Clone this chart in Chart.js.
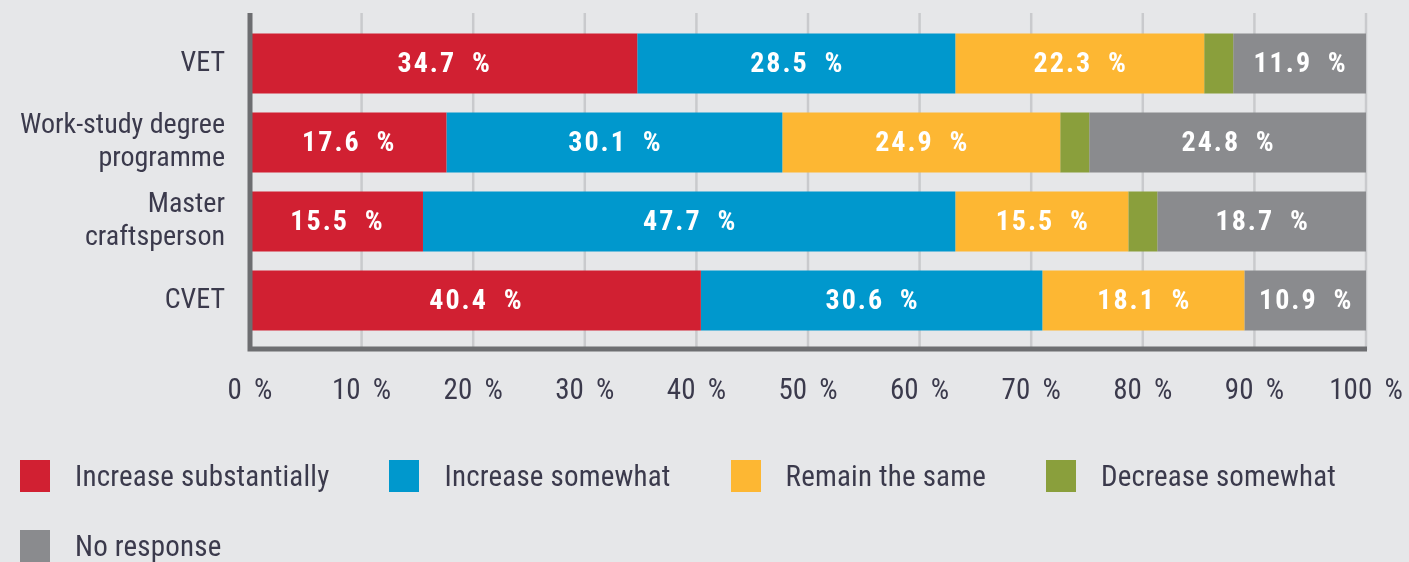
<!DOCTYPE html>
<html>
<head>
<meta charset="utf-8">
<script src="https://cdn.jsdelivr.net/npm/chart.js@4/dist/chart.umd.min.js"></script>
<style>
  html, body { margin: 0; padding: 0; background: #e6e7e9; }
  #wrap { position: relative; width: 1409px; height: 562px; overflow: hidden; }
  #legend {
    position: absolute; left: 20px; top: 460px; width: 1389px;
    display: flex; flex-wrap: wrap; column-gap: 60px; row-gap: 38px;
    font-family: 'Roboto Condensed', 'DejaVu Sans Condensed', sans-serif;
    font-size: 29px; color: #3b3a4c; letter-spacing: 0.2px;
  }
  .item { display: flex; align-items: center; height: 32px; white-space: nowrap; }
  .box { width: 30px; height: 32px; margin-right: 25px; }
</style>
</head>
<body>
<div id="wrap">
  <canvas id="chart" width="1409" height="562"></canvas>
  <div id="legend"></div>
</div>
<script>
//---------------------- Data -----------------------//
const categories = ['VET', ['Work-study degree', 'programme'], ['Master', 'craftsperson'], 'CVET'];
const seriesNames = ['Increase substantially', 'Increase somewhat', 'Remain the same', 'Decrease somewhat', 'No response'];
const increaseSubstantially = [34.7, 17.6, 15.5, 40.4];
const increaseSomewhat = [28.5, 30.1, 47.7, 30.6];
const remainSame = [22.3, 24.9, 15.5, 18.1];
const decreaseSomewhat = [2.6, 2.6, 2.6, 0];
const noResponse = [11.9, 24.8, 18.7, 10.9];
const xTicks = [0, 10, 20, 30, 40, 50, 60, 70, 80, 90, 100];

const colors = ['#d12032', '#0098cd', '#fdb733', '#8a9f3c', '#8a8b8e'];
const fontFamily = "'Roboto Condensed', 'DejaVu Sans Condensed', sans-serif";
const textColor = '#3b3a4c';

//---------------------- Plugins -----------------------//
const gridPlugin = {
    id: 'gridLines',
    beforeDatasetsDraw(chart) {
        const {ctx, chartArea, scales: {x}} = chart;
        ctx.save();
        ctx.strokeStyle = '#c9cacd';
        ctx.lineWidth = 2.5;
        xTicks.forEach((t) => {
            const px = x.getPixelForValue(t);
            ctx.beginPath();
            ctx.moveTo(px, chartArea.top - 11);
            ctx.lineTo(px, chartArea.bottom + 10);
            ctx.stroke();
        });
        ctx.restore();
    },
    afterDatasetsDraw(chart) {
        const {ctx, chartArea, scales: {x}} = chart;
        const left = x.getPixelForValue(0);
        const right = x.getPixelForValue(100);
        ctx.save();
        ctx.strokeStyle = '#6d6e71';
        ctx.lineWidth = 5;
        ctx.beginPath();
        ctx.moveTo(left, chartArea.top - 11);
        ctx.lineTo(left, chartArea.bottom + 11.5);
        ctx.moveTo(left - 2.5, chartArea.bottom + 9);
        ctx.lineTo(right + 1, chartArea.bottom + 9);
        ctx.stroke();
        ctx.restore();
    }
};

const valueLabels = {
    id: 'valueLabels',
    afterDatasetsDraw(chart) {
        const {ctx} = chart;
        ctx.save();
        ctx.font = `bold 28px ${fontFamily}`;
        ctx.fillStyle = '#ffffff';
        ctx.textAlign = 'center';
        ctx.textBaseline = 'middle';
        ctx.letterSpacing = '2px';
        chart.data.datasets.forEach((ds, i) => {
            const meta = chart.getDatasetMeta(i);
            meta.data.forEach((bar, j) => {
                const value = ds.data[j];
                if (value < 5) return;
                const {x, y, base} = bar.getProps(['x', 'y', 'base'], true);
                ctx.fillText(`${value.toFixed(1)} \u2009%`, (x + base) / 2 + 1, y + 1);
            });
        });
        ctx.restore();
    }
};

//---------------------- Chart -----------------------//
const seriesData = [increaseSubstantially, increaseSomewhat, remainSame, decreaseSomewhat, noResponse];

const chart = new Chart(document.getElementById('chart'), {
    type: 'bar',
    data: {
        labels: categories,
        datasets: seriesNames.map((name, i) => ({
            label: name,
            data: seriesData[i],
            backgroundColor: colors[i],
            borderWidth: 0,
            categoryPercentage: 0.76,
            barPercentage: 1
        }))
    },
    plugins: [gridPlugin, valueLabels],
    options: {
        indexAxis: 'y',
        responsive: false,
        animation: false,
        layout: { padding: { top: 24, right: 43, bottom: 152, left: 0 } },
        plugins: {
            legend: { display: false },
            tooltip: { enabled: false }
        },
        scales: {
            x: {
                stacked: true,
                min: 0,
                max: 100,
                grid: { display: false, drawTicks: false },
                border: { display: false },
                ticks: {
                    stepSize: 10,
                    padding: 34,
                    color: textColor,
                    font: { family: fontFamily, size: 29 },
                    callback: (v) => `${v} \u2009%`
                },
                afterFit: (s) => {
                    s.height = 70;
                    s.paddingLeft = 0;
                    s.paddingRight = 0;
                }
            },
            y: {
                stacked: true,
                grid: { display: false, drawTicks: false },
                border: { display: false },
                ticks: {
                    padding: 25,
                    color: textColor,
                    font: { family: fontFamily, size: 28, lineHeight: 1.2 }
                },
                afterFit: (s) => {
                    s.width = 250;
                    s.paddingTop = 0;
                    s.paddingBottom = 0;
                }
            }
        }
    }
});

// legend
const legendBox = document.getElementById('legend');
chart.data.datasets.forEach((ds) => {
    const item = document.createElement('div');
    item.className = 'item';
    item.innerHTML = `<span class="box" style="background:${ds.backgroundColor}"></span><span>${ds.label}</span>`;
    legendBox.appendChild(item);
});
</script>
</body>
</html>
